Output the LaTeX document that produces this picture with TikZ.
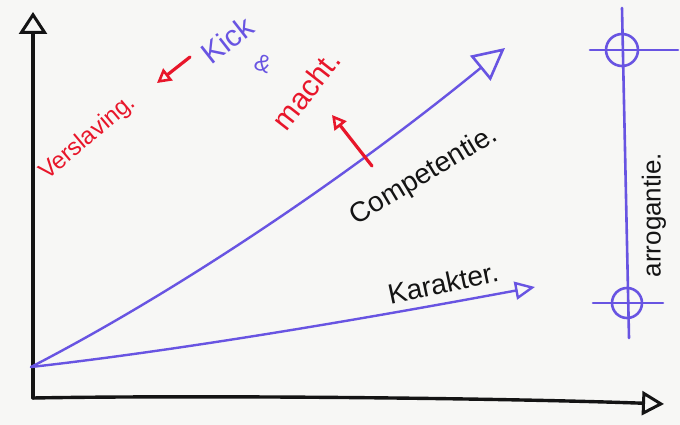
\documentclass[tikz,border=0pt]{standalone}
\usepackage{fontspec}
\setmainfont{Liberation Sans}
\usetikzlibrary{arrows.meta}
\definecolor{cPen}{RGB}{20,20,20}
\definecolor{cBlue}{RGB}{104,84,226}
\definecolor{cRed}{RGB}{232,22,42}
\definecolor{cBoard}{RGB}{247,247,245}

\begin{document}
\begin{tikzpicture}[
  x=1pt, y=-1pt,
  axis/.style  = {cPen, line width=3.4pt, line cap=round, line join=round},
  curve/.style = {cBlue, line width=2.4pt, line cap=round},
  redarr/.style= {cRed, line width=3.2pt, line cap=round,
                  -{Triangle[open, length=14pt, width=15pt, line width=2.6pt]}},
  word/.style  = {inner sep=0pt},
  cross/.style = {cBlue, line width=2.6pt, line cap=round}
]
\useasboundingbox[fill=cBoard] (0,0) rectangle (680,425);

% ------------------------------------------------------------------ assen --
\coordinate (org)  at (33,398);
\coordinate (ytop) at (33,12);
\coordinate (xend) at (664,404);
\draw[axis, -{Triangle[open, length=22pt, width=28pt, line width=3pt]}]
  (org) -- (ytop);
\draw[axis, -{Triangle[open, length=22pt, width=24pt, line width=3pt]}]
  (org) .. controls (200,395) and (500,398) .. (xend);

% ------------------------------------------------------------- de curves --
\coordinate (start) at (31,367);
\coordinate (cTop)  at (505,48);
\coordinate (kTop)  at (535,287);
\draw[curve, -{Triangle[open, length=32pt, width=32pt, line width=2.6pt]}]
  (start) .. controls (180,290) and (350,175) .. (cTop);
\draw[curve, -{Triangle[open, length=20pt, width=18pt, line width=2.4pt]}]
  (start) .. controls (200,348) and (400,312) .. (kTop);

% ------------------------------------------------------------- teksten --
\node[word, cRed, rotate=40,
      font=\fontsize{24}{26}\selectfont] (vers)  at (88,138) {Verslaving.};
\node[word, cBlue, rotate=38,
      font=\fontsize{30}{32}\selectfont] (kick)  at (227,40)  {Kick};
\node[word, cBlue, rotate=-20,
      font=\fontsize{24}{26}\selectfont] (en)    at (263,64)  {\&};
\node[word, cRed, rotate=52,
      font=\fontsize{30}{32}\selectfont] (macht) at (306,90)  {macht.};
\node[word, cPen, rotate=31,
      font=\fontsize{28}{30}\selectfont] (comp)  at (424,176) {Competentie.};
\node[word, cPen, rotate=12,
      font=\fontsize{28}{30}\selectfont] (kar)   at (443,283) {Karakter.};
\node[word, cPen, rotate=90,
      font=\fontsize{26}{28}\selectfont] (arro)  at (654,215) {arrogantie.};

% rode pijltjes: van de woorden naar de curve
\coordinate (vTail) at (190,57);
\coordinate (vHead) at (157,83);
\draw[redarr] (vTail) -- (vHead);
\coordinate (mTail) at (372,166);
\coordinate (mHead) at (332,115);
\draw[redarr] (mTail) -- (mHead);

% ------------------------------------------------- de schaal rechts --
\coordinate (sTop) at (622,8);
\coordinate (sBot) at (629,338);
\draw[cross] (sTop) -- (sBot);
\node[cross, draw, circle, minimum size=32pt, inner sep=0pt] (hi) at (622,50) {};
\draw[cross] (590,50) -- (678,50);
\node[cross, draw, circle, minimum size=30pt, inner sep=0pt] (lo) at (627,303) {};
\draw[cross] (593,303) -- (663,303);

\end{tikzpicture}
\end{document}
